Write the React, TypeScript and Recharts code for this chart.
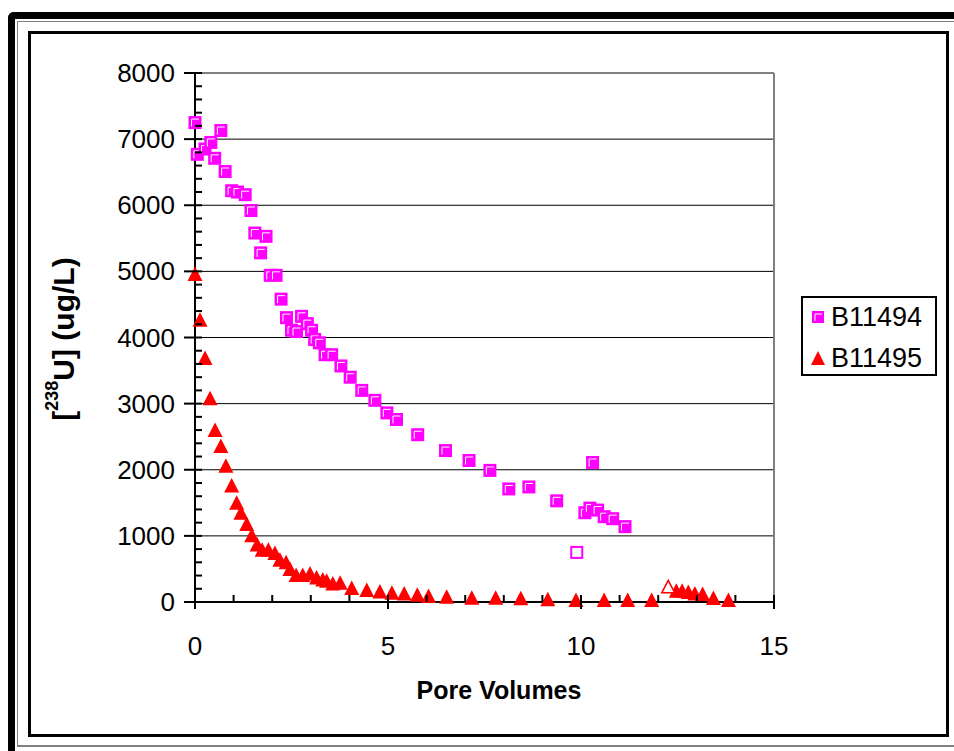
import { ScatterChart, Scatter, XAxis, YAxis, CartesianGrid } from 'recharts';

// B11494 (squares)
const b11494X = [
  0.0, 0.06, 0.26, 0.41, 0.51, 0.67, 0.78, 0.95, 1.1, 1.3, 1.45, 1.55, 1.7, 1.84, 1.95, 2.1,
  2.23, 2.37, 2.5, 2.63, 2.76, 2.91, 3.02, 3.1, 3.22, 3.37, 3.54, 3.78, 4.02, 4.32, 4.66, 4.97,
  5.22, 5.77, 6.49, 7.1, 7.64, 8.13, 8.65, 9.37, 10.1, 10.23, 10.3, 10.43, 10.6, 10.82, 11.14,
];
const b11494Y = [
  7250, 6770, 6850, 6950, 6710, 7130, 6510, 6220, 6200, 6160, 5920, 5580, 5280, 5530, 4940, 4940,
  4580, 4300, 4110, 4090, 4320, 4210, 4110, 3970, 3920, 3740, 3740, 3570, 3400, 3200, 3050, 2860,
  2760, 2530, 2290, 2140, 1990, 1710, 1740, 1530, 1350, 1420, 2110, 1390, 1290, 1260, 1140,
];
// open (excluded) point
const b11494OpenX = [9.89];
const b11494OpenY = [750];

// B11495 (triangles)
const b11495X = [
  0.0, 0.13, 0.26, 0.39, 0.52, 0.67, 0.8, 0.95, 1.08, 1.19, 1.34, 1.47, 1.61, 1.74, 1.9, 2.07,
  2.2, 2.36, 2.46, 2.62, 2.79, 2.98, 3.15, 3.31, 3.41, 3.57, 3.76, 4.06, 4.45, 4.79, 5.1, 5.42,
  5.76, 6.05, 6.52, 7.17, 7.79, 8.44, 9.14, 9.87, 10.6, 11.21, 11.83, 12.47, 12.62, 12.78, 12.95,
  13.15, 13.43, 13.82,
];
const b11495Y = [
  4960, 4270, 3690, 3080, 2600, 2360, 2060, 1760, 1500, 1350, 1180, 1010, 870, 790, 790, 740,
  640, 600, 500, 410, 410, 430, 370, 340, 320, 280, 290, 210, 180, 160, 140, 130,
  110, 90, 80, 65, 65, 55, 40, 30, 30, 30, 30, 170, 170, 150, 130,
  120, 60, 30,
];
const b11495OpenX = [12.26];
const b11495OpenY = [230];

const xTicks = Array.from({ length: 16 }, (_, i) => i);
const xLabels = [0, 5, 10, 15];
const yTicks = Array.from({ length: 41 }, (_, i) => i * 200);
const yLabels = [0, 1000, 2000, 3000, 4000, 5000, 6000, 7000, 8000];

const zip = (xs: number[], ys: number[]) => xs.map((x, i) => ({ x, y: ys[i] }));

const MAGENTA = '#FF00FF';
const RED = '#FF0000';
const FONT = '"Liberation Sans", Arial, sans-serif';

const Square = (props: any) => {
  const { cx, cy } = props;
  if (cx == null || cy == null) return null;
  return (
    <g>
      <rect x={cx - 6.5} y={cy - 6.5} width={13} height={13} fill={MAGENTA} />
      <polyline
        points={`${cx - 3.5},${cy + 4} ${cx - 3.5},${cy - 3.5} ${cx + 4},${cy - 3.5}`}
        fill="none"
        stroke="#fff"
        strokeWidth={1}
      />
    </g>
  );
};

const OpenSquare = (props: any) => {
  const { cx, cy } = props;
  if (cx == null || cy == null) return null;
  return <rect x={cx - 5.5} y={cy - 5.5} width={11} height={11} fill="#fff" stroke={MAGENTA} strokeWidth={2} />;
};

const Triangle = (props: any) => {
  const { cx, cy } = props;
  if (cx == null || cy == null) return null;
  return <polygon points={`${cx},${cy - 7.5} ${cx + 7.5},${cy + 7} ${cx - 7.5},${cy + 7}`} fill={RED} />;
};

const OpenTriangle = (props: any) => {
  const { cx, cy } = props;
  if (cx == null || cy == null) return null;
  return (
    <polygon
      points={`${cx},${cy - 6.5} ${cx + 6.5},${cy + 6} ${cx - 6.5},${cy + 6}`}
      fill="#fff"
      stroke={RED}
      strokeWidth={1.5}
    />
  );
};

const YTick = ({ x, y, payload }: any) => {
  const v = payload.value;
  const major = yLabels.includes(v);
  return (
    <g>
      <line x1={major ? x - 11 : x} x2={x + 7} y1={y} y2={y} stroke="#000" strokeWidth={2} />
      {major && (
        <text x={x - 20} y={y} textAnchor="end" dominantBaseline="central" fontSize={26} fontFamily={FONT} fill="#000">
          {v}
        </text>
      )}
    </g>
  );
};

const XTick = ({ x, y, payload }: any) => {
  const v = payload.value;
  const major = xLabels.includes(v);
  return (
    <g>
      <line x1={x} x2={x} y1={y - 7} y2={major ? y + 7 : y} stroke="#000" strokeWidth={2} />
      {major && (
        <text x={x} y={y + 44} textAnchor="middle" dominantBaseline="central" fontSize={26} fontFamily={FONT} fill="#000">
          {v}
        </text>
      )}
    </g>
  );
};

const YLabel = () => (
  <text
    x={63}
    y={339}
    transform="rotate(-90 63 339)"
    textAnchor="middle"
    dominantBaseline="central"
    fontSize={30}
    fontWeight="bold"
    fontFamily={FONT}
    fill="#000"
  >
    [<tspan fontSize={18} dy={-11}>238</tspan>
    <tspan dy={11}>U] (ug/L)</tspan>
  </text>
);

const XLabel = () => (
  <text x={499} y={690} textAnchor="middle" dominantBaseline="central" fontSize={25} fontWeight="bold" fontFamily={FONT} fill="#000">
    Pore Volumes
  </text>
);

const App = () => {
  return (
    <div style={{ position: 'absolute', left: 0, top: 0, width: 954, height: 751, background: '#fff', overflow: 'hidden' }}>
      {/* window frame */}
      <div
        style={{
          position: 'absolute',
          left: 8,
          top: 12,
          width: 980,
          height: 780,
          borderTop: '7px solid #000',
          borderLeft: '7px solid #000',
          borderTopLeftRadius: 6,
        }}
      />
      <div
        style={{
          position: 'absolute',
          left: 17,
          top: 21,
          width: 960,
          height: 726,
          boxSizing: 'border-box',
          borderTop: '1px solid #808080',
          borderLeft: '1px solid #808080',
          borderBottom: '2px solid #808080',
        }}
      />
      <div
        style={{
          position: 'absolute',
          left: 28,
          top: 31,
          width: 921,
          height: 706,
          boxSizing: 'border-box',
          border: '3px solid #000',
        }}
      />

      <div style={{ position: 'absolute', left: 0, top: 0 }}>
        <ScatterChart width={954} height={751} margin={{ top: 73, right: 180, bottom: 109, left: 115 }}>
          <CartesianGrid horizontalValues={yLabels.slice(1)} vertical={false} stroke="#000" strokeWidth={1} />
          <CartesianGrid verticalValues={[15]} horizontal={false} stroke="#808080" strokeWidth={2} />
          <XAxis
            type="number"
            dataKey="x"
            domain={[0, 15]}
            ticks={xTicks}
            interval={0}
            height={40}
            tickSize={0}
            tickMargin={0}
            tickLine={false}
            tick={<XTick />}
            axisLine={{ stroke: '#000', strokeWidth: 2 }}
            label={<XLabel />}
          />
          <YAxis
            type="number"
            dataKey="y"
            domain={[0, 8000]}
            ticks={yTicks}
            interval={0}
            width={80}
            tickSize={0}
            tickMargin={0}
            tickLine={false}
            tick={<YTick />}
            axisLine={{ stroke: '#000', strokeWidth: 2 }}
            label={<YLabel />}
          />
          <Scatter name="B11494" data={zip(b11494X, b11494Y)} shape={<Square />} isAnimationActive={false} />
          <Scatter data={zip(b11494OpenX, b11494OpenY)} shape={<OpenSquare />} isAnimationActive={false} legendType="none" />
          <Scatter name="B11495" data={zip(b11495X, b11495Y)} shape={<Triangle />} isAnimationActive={false} />
          <Scatter data={zip(b11495OpenX, b11495OpenY)} shape={<OpenTriangle />} isAnimationActive={false} legendType="none" />
        </ScatterChart>
      </div>

      {/* legend */}
      <div
        style={{
          position: 'absolute',
          left: 801,
          top: 296,
          width: 136,
          height: 80,
          boxSizing: 'border-box',
          border: '2px solid #000',
          background: '#fff',
          fontFamily: FONT,
          fontSize: 27,
          color: '#000',
        }}
      >
        {[
          { name: 'B11494', shape: 'square' },
          { name: 'B11495', shape: 'triangle' },
        ].map((item, i) => (
          <div
            key={item.name}
            style={{ position: 'absolute', left: 6, top: i === 0 ? 5 : 46, height: 28, display: 'flex', alignItems: 'center' }}
          >
            <svg width={18} height={18} style={{ marginRight: 4 }}>
              {item.shape === 'square' ? (
                <g>
                  <rect x={3} y={3} width={12} height={12} fill={MAGENTA} />
                  <polyline points="6,13 6,6 13,6" fill="none" stroke="#fff" strokeWidth={1} />
                </g>
              ) : (
                <polygon points="9,2 16,16 2,16" fill={RED} />
              )}
            </svg>
            <span>{item.name}</span>
          </div>
        ))}
      </div>
    </div>
  );
};

export default App;
